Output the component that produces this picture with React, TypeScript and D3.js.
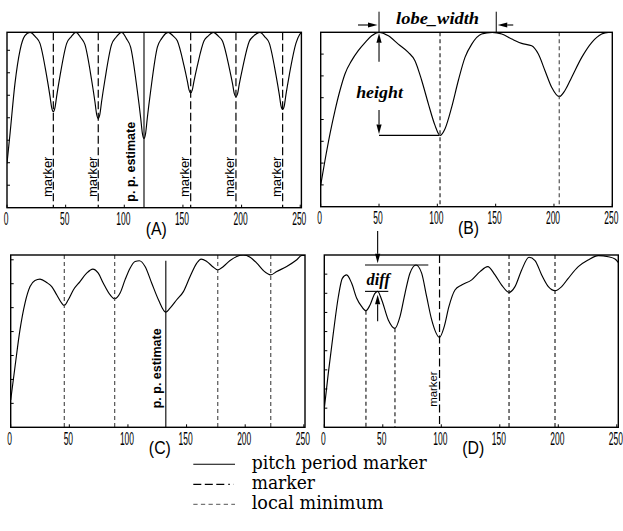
import React from "react";
import * as d3 from "d3";

type Pt = [number, number];

// ---------------- data ----------------
const xTickValues = [0, 50, 100, 150, 200, 250];
const panelCaptions = ["(A)", "(B)", "(C)", "(D)"];

const curveA: Pt[] = [
  [0, 1.97], [2.6, 3.3], [6.8, 5.53], [11.1, 7.0], [15.3, 7.65], [19.6, 7.8],
  [24.5, 7.59], [28.1, 7.31], [33.8, 5.86], [36.7, 4.94], [38.1, 4.45], [39.5, 4.27],
  [40.9, 4.45], [42.3, 4.94], [45.2, 5.86], [50.9, 7.31], [54.5, 7.59], [58.8, 7.8],
  [62.8, 7.57], [66.4, 7.26], [72.1, 5.69], [75.0, 4.7], [76.4, 4.16], [77.8, 3.97],
  [79.2, 4.16], [80.6, 4.7], [83.5, 5.69], [89.2, 7.26], [92.8, 7.57], [97.8, 7.8],
  [101.8, 7.52], [105.4, 7.14], [111.1, 5.2], [114.0, 3.98], [115.4, 3.32], [116.8, 3.08],
  [118.2, 3.32], [119.6, 3.98], [122.5, 5.2], [128.2, 7.14], [131.8, 7.52], [137.5, 7.8],
  [141.6, 7.64], [145.2, 7.42], [150.9, 6.32], [153.8, 5.62], [155.2, 5.24], [156.6, 5.11],
  [158.0, 5.24], [159.4, 5.62], [162.3, 6.32], [168.0, 7.42], [171.6, 7.64], [175.9, 7.8],
  [180.2, 7.63], [183.8, 7.4], [189.5, 6.22], [192.4, 5.48], [193.8, 5.07], [195.2, 4.93],
  [196.6, 5.07], [198.0, 5.48], [200.9, 6.22], [206.6, 7.4], [210.2, 7.63], [215.7, 7.8],
  [220.0, 7.59], [223.6, 7.32], [229.3, 5.91], [232.2, 5.02], [233.6, 4.53], [235.0, 4.37],
  [236.4, 4.53], [237.8, 5.02], [240.7, 5.91], [246.4, 7.32], [249.5, 7.7], [251, 7.8],
];
const markersA = [39.5, 77.8, 156.6, 195.2, 235.0];
const pitchA = 116.8;

const curveB: Pt[] = [
  [0, 0.99], [3.7, 2.13], [8, 3.35], [12.3, 4.42], [16.5, 5.33], [20.8, 6.09],
  [26.5, 6.7], [32.2, 7.16], [38, 7.53], [43.7, 7.84], [50, 8.0], [58, 7.84],
  [66.5, 7.46], [75.1, 7.08], [80.8, 6.7], [86.6, 5.79], [92.3, 4.72], [98, 3.73],
  [102.3, 3.27], [106.6, 3.58], [112.3, 4.57], [118, 5.79], [123.7, 6.85], [129.5, 7.46],
  [138, 7.92], [147, 8.0], [155.2, 7.92], [163.8, 7.69], [172.3, 7.49], [180.9, 7.38],
  [186.6, 7.0], [192.3, 6.24], [198, 5.48], [204.5, 5.05], [209.4, 5.33], [215.2, 5.94],
  [223.8, 6.85], [232.3, 7.53], [240.9, 7.92], [246.6, 8.0], [250, 8.0],
];
const localMinB = [102.3, 204.5];
const lobeB = [50, 150.5];
const troughB = 3.27;

const curveC: Pt[] = [
  [0, 1.14], [3.7, 2.54], [7.9, 4.07], [12.2, 5.19], [16.5, 5.88], [20.7, 6.13],
  [25, 6.19], [30.7, 6.05], [35, 5.88], [39.2, 5.54], [43.5, 5.19], [45.7, 5.09],
  [49.1, 5.33], [53.4, 5.74], [59.1, 6.09], [64.8, 6.44], [70, 6.61], [74.7, 6.44],
  [79, 6.02], [84.7, 5.54], [88.7, 5.37], [93.3, 5.61], [97.5, 6.16], [101.8, 6.65],
  [106.1, 6.93], [109.7, 6.96], [114.6, 6.72], [120.3, 6.02], [126, 5.33], [132.3, 4.81],
  [135.9, 4.98], [141.6, 5.33], [147.3, 5.67], [153, 6.3], [158.7, 6.86], [162.4, 7.03],
  [167.2, 6.93], [172.9, 6.69], [176.6, 6.58], [181.4, 6.72], [187.1, 6.97], [192.8, 7.14],
  [198.4, 7.2], [204.2, 7.11], [209.9, 6.86], [215.5, 6.55], [221.8, 6.37], [226.9, 6.51],
  [235.4, 6.72], [244, 7.0], [248.3, 7.18], [251, 7.18],
];
const localMinC = [45.7, 88.7, 176.6, 221.8];
const pitchC = 132.3;
const pitchCTop = 6.96;

const curveD: Pt[] = [
  [0, 0.99], [3.4, 2.82], [7.7, 4.91], [12, 6.82], [15.4, 7.78], [19.1, 7.96],
  [23.4, 7.52], [27.7, 6.74], [32, 6.3], [35.6, 6.09], [39.1, 6.39], [43.3, 7.0],
  [45.6, 7.1], [49.1, 6.65], [54.7, 5.61], [60.4, 5.17], [64.7, 5.78], [69, 7.0],
  [73.2, 8.05], [78.4, 8.48], [83.2, 8.05], [87.5, 6.82], [91.8, 5.61], [98.5, 4.7],
  [102.5, 5.26], [106.5, 6.3], [111.7, 7.17], [117.4, 7.43], [126, 7.7], [133.1, 8.13],
  [139.7, 8.39], [145.9, 7.96], [151.6, 7.43], [157.9, 7.05], [163, 7.35], [168.7, 8.22],
  [175, 8.88], [180.1, 8.71], [185.8, 7.96], [191.5, 7.35], [197.2, 7.14], [202.9, 7.35],
  [208.5, 7.78], [217.1, 8.39], [225.6, 8.74], [234.2, 8.97], [242.7, 8.91], [248.5, 8.79],
  [251.4, 8.6],
];
const localMinD = [35.6, 60.4, 157.9, 197.2];
const fullLocalMinD = [157.9, 197.2];
const markersD = [98.5];
const diffPeaksD: Pt[] = [[78.4, 8.48], [45.6, 7.1]];

const legendLabels = ["pitch period marker", "marker", "local minimum"];

// ---------------- layout ----------------
type Geo = { left: number; right: number; top: number; bottom: number; xMax: number; yMax: number; yTicks: number };
const geoA: Geo = { left: 7, right: 301.4, top: 32.3, bottom: 207.7, xMax: 251, yMax: 7.8, yTicks: 7 };
const geoB: Geo = { left: 320.7, right: 612.3, top: 32.3, bottom: 206.7, xMax: 250, yMax: 8, yTicks: 7 };
const geoC: Geo = { left: 10.7, right: 305, top: 255, bottom: 427.3, xMax: 251, yMax: 7.2, yTicks: 7 };
const geoD: Geo = { left: 324.3, right: 618.3, top: 255, bottom: 427.3, xMax: 251.3, yMax: 9, yTicks: 8 };

const SANS = "'Liberation Sans', Arial, Helvetica, sans-serif";
const SERIF = "'DejaVu Serif', 'Liberation Serif', serif";
const SERIF_BI = "'Liberation Serif', 'DejaVu Serif', serif";

const LONG_DASH = "8,3.5";
const SHORT_DASH = "4,3";

function Arrow({ x1, y1, x2, y2 }: { x1: number; y1: number; x2: number; y2: number }) {
  const dx = x2 - x1;
  const dy = y2 - y1;
  const len = Math.hypot(dx, dy);
  const ux = dx / len;
  const uy = dy / len;
  const hl = 9.5;
  const hw = 2.6;
  const bx = x2 - ux * hl;
  const by = y2 - uy * hl;
  const pts = [
    [x2, y2],
    [bx - uy * hw, by + ux * hw],
    [bx + uy * hw, by - ux * hw],
  ];
  return (
    <g>
      <line x1={x1} y1={y1} x2={bx} y2={by} stroke="#000" strokeWidth={1.1} />
      <polygon points={pts.map((p) => p.join(",")).join(" ")} fill="#000" />
    </g>
  );
}

function Panel({
  id,
  g,
  data,
  caption,
  extra,
}: {
  id: string;
  g: Geo;
  data: Pt[];
  caption: string;
  extra: (x: d3.ScaleLinear<number, number>, y: d3.ScaleLinear<number, number>) => React.ReactNode;
}) {
  const x = d3.scaleLinear().domain([0, g.xMax]).range([g.left, g.right]);
  const y = d3.scaleLinear().domain([0, g.yMax]).range([g.bottom, g.top]);
  const line = d3
    .line<Pt>()
    .x((d) => x(d[0]))
    .y((d) => y(d[1]))
    .curve(d3.curveMonotoneX);
  const yt = d3.range(1, g.yTicks + 1);
  return (
    <g>
      <defs>
        <clipPath id={id}>
          <rect x={g.left} y={g.top} width={g.right - g.left} height={g.bottom - g.top} />
        </clipPath>
      </defs>
      <g clipPath={`url(#${id})`}>
        <path d={line(data) || ""} fill="none" stroke="#000" strokeWidth={1.15} />
      </g>
      {extra(x, y)}
      <rect
        x={g.left}
        y={g.top}
        width={g.right - g.left}
        height={g.bottom - g.top}
        fill="none"
        stroke="#000"
        strokeWidth={1.4}
      />
      {yt.map((t) => (
        <line key={"yt" + t} x1={g.left} x2={g.left + 3} y1={y(t)} y2={y(t)} stroke="#000" strokeWidth={1} />
      ))}
      {xTickValues.map((t) => (
        <g key={"xt" + t}>
          <line x1={x(t)} x2={x(t)} y1={g.bottom} y2={g.bottom - 3} stroke="#000" strokeWidth={1} />
          <text
            transform={`translate(${x(t) - 1},${g.bottom + 17.5}) scale(0.47,1)`}
            textAnchor="middle"
            fontFamily={SANS}
            fontSize={18}
            fill="#000"
          >
            {t}
          </text>
        </g>
      ))}
      <text
        transform={`translate(${(g.left + g.right) / 2 + 2},${g.bottom + 26.8}) scale(0.88,1)`}
        textAnchor="middle"
        fontFamily={SANS}
        fontSize={18}
        fill="#000"
      >
        {caption}
      </text>
    </g>
  );
}

function vText(x: number, y: number, label: string, size: number, bold: boolean, key: string) {
  return (
    <text
      key={key}
      transform={`translate(${x},${y}) rotate(-90)`}
      fontFamily={SANS}
      fontSize={size}
      fontWeight={bold ? "bold" : "normal"}
      fill="#000"
    >
      {label}
    </text>
  );
}

export default function App() {
  return (
    <svg
      width={623}
      height={531}
      viewBox="0 0 623 531"
      style={{ position: "absolute", left: 0, top: 0, background: "#fff" }}
    >
      <rect x={0} y={0} width={623} height={531} fill="#fff" />

      {/* Panel A */}
      <Panel
        id="clipA"
        g={geoA}
        data={curveA}
        caption={panelCaptions[0]}
        extra={(x, y) => (
          <g>
            {markersA.map((m, i) => (
              <g key={"ma" + i}>
                <line x1={x(m)} x2={x(m)} y1={geoA.top} y2={geoA.bottom} stroke="#000" strokeWidth={1.2} strokeDasharray={LONG_DASH} />
                {vText(x(m) - 1.6, geoA.bottom - 10.7, "marker", 13, false, "mt" + i)}
              </g>
            ))}
            <line x1={x(pitchA)} x2={x(pitchA)} y1={geoA.top} y2={geoA.bottom} stroke="#000" strokeWidth={1.1} />
            {vText(x(pitchA) - 9, geoA.bottom - 6, "p. p. estimate", 12.5, true, "ppa")}
          </g>
        )}
      />

      {/* Panel B */}
      <Panel
        id="clipB"
        g={geoB}
        data={curveB}
        caption={panelCaptions[1]}
        extra={(x, y) => {
          const xs = x(lobeB[0]);
          const xe = x(lobeB[1]);
          const top = geoB.top;
          return (
            <g>
              {localMinB.map((m, i) => (
                <line key={"lb" + i} x1={x(m)} x2={x(m)} y1={geoB.top} y2={geoB.bottom} stroke={i === 0 ? "#111" : "#444"} strokeWidth={1.1} strokeDasharray={SHORT_DASH} />
              ))}
              <line x1={xs} x2={xs} y1={top - 20.6} y2={top} stroke="#000" strokeWidth={1} />
              <line x1={xe} x2={xe} y1={top - 20.6} y2={top} stroke="#000" strokeWidth={1} />
              <Arrow x1={xs - 21} y1={top - 7.3} x2={xs - 1.5} y2={top - 7.3} />
              <Arrow x1={xe + 17} y1={top - 7.3} x2={xe + 1.5} y2={top - 7.3} />
              <text x={(xs + xe) / 2} y={top - 8.3} textAnchor="middle" fontFamily={SERIF_BI} fontSize={17} fontWeight="bold" fontStyle="italic" textLength={83} lengthAdjust="spacingAndGlyphs">
                lobe_width
              </text>
              <Arrow x1={xs} y1={top + 29.4} x2={xs} y2={top + 1} />
              <text x={xs + 0.5} y={top + 66} textAnchor="middle" fontFamily={SERIF_BI} fontSize={17} fontWeight="bold" fontStyle="italic" textLength={46.7} lengthAdjust="spacingAndGlyphs">
                height
              </text>
              <Arrow x1={xs} y1={top + 77.7} x2={xs} y2={y(troughB) - 1.3} />
              <line x1={xs} x2={x(localMinB[0]) - 1} y1={y(troughB)} y2={y(troughB)} stroke="#000" strokeWidth={1.1} />
            </g>
          );
        }}
      />

      {/* Panel C */}
      <Panel
        id="clipC"
        g={geoC}
        data={curveC}
        caption={panelCaptions[2]}
        extra={(x, y) => (
          <g>
            {localMinC.map((m, i) => (
              <line key={"lc" + i} x1={x(m)} x2={x(m)} y1={geoC.top} y2={geoC.bottom} stroke="#444" strokeWidth={1.1} strokeDasharray={SHORT_DASH} />
            ))}
            <line x1={x(pitchC)} x2={x(pitchC)} y1={y(pitchCTop)} y2={geoC.bottom} stroke="#000" strokeWidth={1.1} />
            {vText(x(pitchC) - 4.7, geoC.bottom - 19, "p. p. estimate", 12.5, true, "ppc")}
          </g>
        )}
      />

      {/* Panel D */}
      <Panel
        id="clipD"
        g={geoD}
        data={curveD}
        caption={panelCaptions[3]}
        extra={(x, y) => {
          const hi = diffPeaksD[0];
          const lo = diffPeaksD[1];
          const ax = x(lo[0]);
          const valAt = (m: number) => {
            const f = curveD.find((d) => d[0] === m);
            return f ? f[1] : 0;
          };
          return (
            <g>
              {localMinD.map((m, i) => (
                <line
                  key={"ld" + i}
                  x1={x(m)}
                  x2={x(m)}
                  y1={fullLocalMinD.includes(m) ? geoD.top : y(valAt(m))}
                  y2={geoD.bottom}
                  stroke="#111"
                  strokeWidth={1.1}
                  strokeDasharray={SHORT_DASH}
                />
              ))}
              {markersD.map((m, i) => (
                <g key={"md" + i}>
                  <line x1={x(m)} x2={x(m)} y1={geoD.top} y2={geoD.bottom} stroke="#000" strokeWidth={1.2} strokeDasharray={LONG_DASH} />
                  {vText(x(m) - 2.5, geoD.bottom - 20.6, "marker", 11.3, false, "mdt" + i)}
                </g>
              ))}
              <line x1={x(34.8)} x2={x(88.9)} y1={y(hi[1])} y2={y(hi[1])} stroke="#000" strokeWidth={1.1} />
              <line x1={x(34.8)} x2={x(54.7)} y1={y(lo[1])} y2={y(lo[1])} stroke="#000" strokeWidth={1.1} />
              <Arrow x1={ax} y1={geoD.top - 24} x2={ax} y2={y(hi[1]) - 1.7} />
              <text x={ax + 0.6} y={y(lo[1]) - 6} textAnchor="middle" fontFamily={SERIF_BI} fontSize={17} fontWeight="bold" fontStyle="italic" textLength={23.3} lengthAdjust="spacingAndGlyphs">
                diff
              </text>
              <Arrow x1={ax} y1={y(lo[1]) + 30} x2={ax} y2={y(lo[1]) + 3.3} />
            </g>
          );
        }}
      />

      {/* Legend */}
      <g>
        <line x1={193.3} x2={235} y1={464.3} y2={464.3} stroke="#000" strokeWidth={1.1} />
        <line x1={193.3} x2={234} y1={484.3} y2={484.3} stroke="#000" strokeWidth={1.2} strokeDasharray="8,3.5,8,3.5,8,4,1.5,4" />
        <line x1={193.3} x2={235} y1={504.3} y2={504.3} stroke="#555" strokeWidth={1} strokeDasharray="4.3,3.3" />
        <text x={251.7} y={469} fontFamily={SERIF} fontSize={18} textLength={175} lengthAdjust="spacingAndGlyphs" fill="#000">
          {legendLabels[0]}
        </text>
        <text x={251.7} y={489} fontFamily={SERIF} fontSize={18} textLength={63.3} lengthAdjust="spacingAndGlyphs" fill="#000">
          {legendLabels[1]}
        </text>
        <text x={251.7} y={509} fontFamily={SERIF} fontSize={18} textLength={131.7} lengthAdjust="spacingAndGlyphs" fill="#000">
          {legendLabels[2]}
        </text>
      </g>
    </svg>
  );
}
